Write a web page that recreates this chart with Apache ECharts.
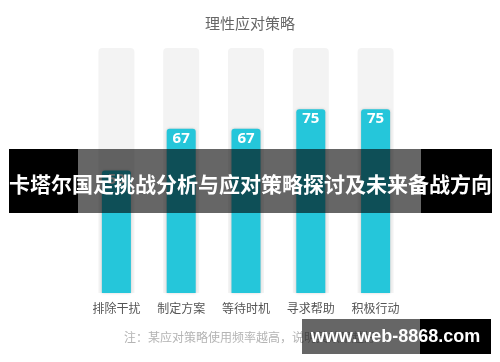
<!DOCTYPE html>
<html>
<head>
<meta charset="utf-8">
<script src="https://cdn.jsdelivr.net/npm/echarts@6/dist/echarts.min.js"></script>
<style>
  html, body { margin: 0; padding: 0; background: #fff; }
  #chart { width: 500px; height: 362px; }
</style>
</head>
<body>
<div id="chart"></div>
<script>
// Strategy categories and their usage scores (0–100)
const categories = ['排除干扰', '制定方案', '等待时机', '寻求帮助', '积极行动'];
const usageScores = [50, 67, 67, 75, 75];
const fullScale = [100, 100, 100, 100, 100];

const chartTitle = '理性应对策略';
const footNote = '注：某应对策略使用频率越高，说明其效果越好';
const bannerText = '卡塔尔国足挑战分析与应对策略探讨及未来备战方向';
const siteText = 'www.web-8868.com';

const cjkFont = '"Noto Sans CJK SC", "Noto Sans", sans-serif';

const chart = echarts.init(document.getElementById('chart'), null, { renderer: 'canvas' });

chart.setOption({
  animation: false,
  backgroundColor: '#ffffff',
  title: {
    text: chartTitle,
    left: 'center',
    top: 11,
    textStyle: { color: '#666666', fontSize: 15, fontWeight: 'normal', fontFamily: cjkFont }
  },
  grid: { left: 84, right: 92, top: 48, bottom: 69 },
  xAxis: [
    {
      type: 'category',
      data: categories,
      axisLine: { show: false },
      axisTick: { show: false },
      axisLabel: { color: '#555555', fontSize: 12, margin: 9, fontFamily: cjkFont }
    },
    {
      type: 'category',
      data: categories,
      show: false
    }
  ],
  yAxis: { type: 'value', min: 0, max: 100, show: false },
  series: [
    {
      type: 'bar',
      xAxisIndex: 1,
      data: fullScale,
      barWidth: 36,
      silent: true,
      itemStyle: { color: '#f3f3f3', borderRadius: [4, 4, 0, 0] },
      z: 1
    },
    {
      type: 'bar',
      xAxisIndex: 0,
      data: usageScores,
      barWidth: 29,
      itemStyle: {
        color: '#25c6da',
        borderRadius: [3, 3, 0, 0],
        shadowColor: 'rgba(0,0,0,0.18)',
        shadowBlur: 3
      },
      label: {
        show: true,
        position: 'insideTop',
        distance: 2,
        color: '#ffffff',
        fontSize: 15,
        fontWeight: 'bold',
        fontFamily: '"Open Sans", Roboto, sans-serif'
      },
      z: 2
    }
  ],
  graphic: [
    {
      type: 'text',
      left: 'center',
      top: 331,
      z: 10,
      style: { text: footNote, fill: '#b4b4b4', fontSize: 12, fontFamily: cjkFont }
    },
    // heading banner across the middle of the chart
    { type: 'rect', z: 100, shape: { x: 9, y: 149, width: 69, height: 64 }, style: { fill: '#000000' } },
    { type: 'rect', z: 100, shape: { x: 78, y: 149, width: 343, height: 64 }, style: { fill: 'rgba(0,0,0,0.6)' } },
    { type: 'rect', z: 100, shape: { x: 421, y: 149, width: 71, height: 64 }, style: { fill: '#000000' } },
    {
      type: 'text', z: 101,
      x: 250.5, y: 184,
      style: {
        text: bannerText, fill: '#ffffff', fontSize: 21, fontWeight: 'bold',
        fontFamily: cjkFont, textAlign: 'center', textVerticalAlign: 'middle'
      }
    },
    // site tag in the bottom-right corner
    { type: 'rect', z: 100, shape: { x: 302, y: 319, width: 118, height: 35 }, style: { fill: 'rgba(0,0,0,0.6)' } },
    { type: 'rect', z: 100, shape: { x: 420, y: 319, width: 71, height: 35 }, style: { fill: '#000000' } },
    {
      type: 'text', z: 101,
      x: 395.5, y: 337,
      style: {
        text: siteText, fill: '#ffffff', fontSize: 18, fontWeight: 'bold',
        fontFamily: '"Liberation Sans", Arial, sans-serif', textAlign: 'center', textVerticalAlign: 'middle'
      }
    }
  ]
});
</script>
</body>
</html>
